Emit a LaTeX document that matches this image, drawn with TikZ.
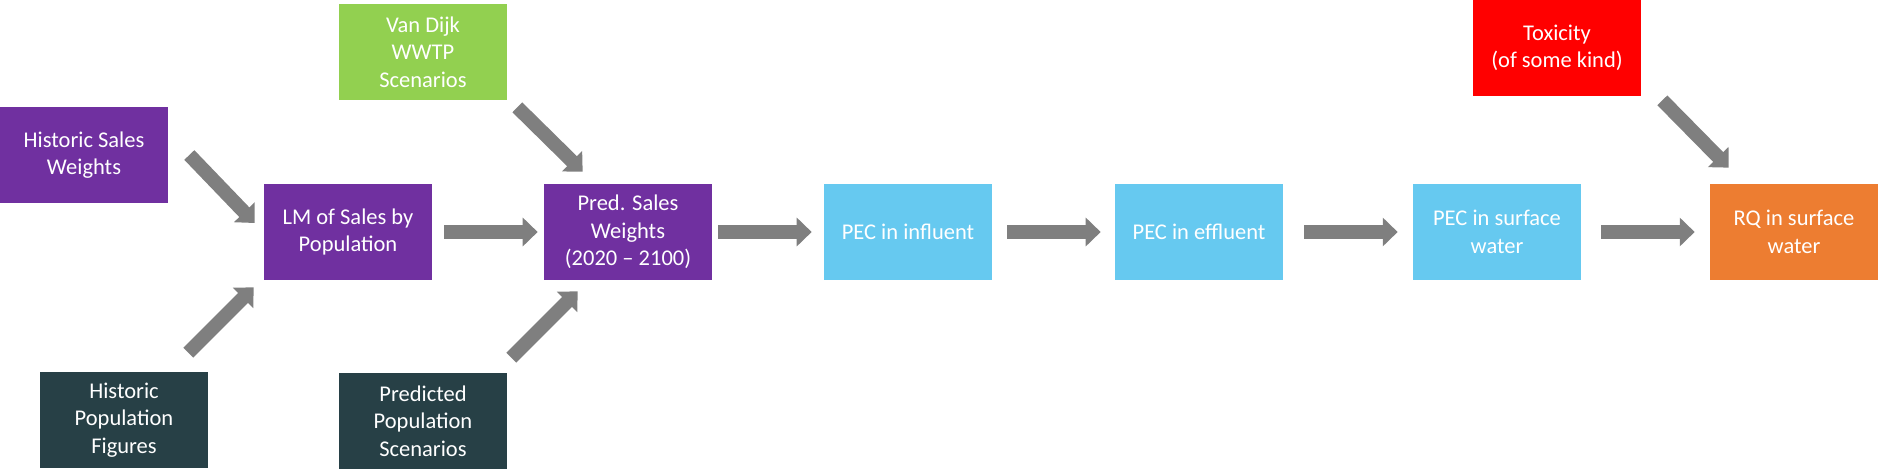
\documentclass[tikz,border=0pt]{standalone}
\usepackage{fontspec}
\setmainfont{Carlito}
\usepackage{xcolor}
\usepackage{tikz}
\usetikzlibrary{calc, arrows.meta}

\definecolor{salespurple}{HTML}{7030A0}
\definecolor{popteal}{HTML}{274046}
\definecolor{wwtpgreen}{HTML}{92D050}
\definecolor{pecblue}{HTML}{66C9F0}
\definecolor{toxred}{HTML}{FF0000}
\definecolor{rqorange}{HTML}{ED7D31}
\definecolor{arrowgray}{HTML}{7F7F7F}

\begin{document}
\begin{tikzpicture}[x=0.02cm, y=-0.02cm,
    box/.style={minimum width=3.36cm, minimum height=1.92cm, inner sep=0pt,
        align=center, text=white, font=\fontsize{12.8}{15.7}\selectfont},
    fat/.style={draw=arrowgray, line width=7.94pt,
        -{Triangle[width=15.9pt, length=8.5pt]}}]

    \useasboundingbox (0,0) rectangle (1878,476);

    % 1. Eingaben links
    \node[box, fill=salespurple] (hsw) at (84,155) {Historic Sales\\Weights};
    \node[box, fill=popteal] (hpf) at (124,420) {Historic\\Population\\Figures};
    \node[box, fill=salespurple] (lm) at (348,232) {LM of Sales by\\Population};

    % 2. Vorhersage
    \node[box, fill=wwtpgreen] (vdw) at (423,52) {Van Dijk\\WWTP\\Scenarios};
    \node[box, fill=popteal] (pps) at (423,421) {Predicted\\Population\\Scenarios};
    \node[box, fill=salespurple] (psw) at (628,232) {Pred. Sales\\Weights\\(2020 -- 2100)};

    % 3. PEC Kette
    \node[box, fill=pecblue] (infl) at (908,232) {PEC in influent};
    \node[box, fill=pecblue] (effl) at (1199,232) {PEC in effluent};
    \node[box, fill=pecblue] (surf) at (1497,232) {PEC in surface\\water};
    \node[box, fill=toxred] (tox) at (1557,48) {Toxicity\\(of some kind)};
    \node[box, fill=rqorange] (rq) at (1794,232) {RQ in surface\\water};

    % 4. Pfeile
    \draw[fat] ($(hsw.east)+(21,0)$) -- ($(lm.west)+(-9,-9)$);
    \draw[fat] ($(hpf.north east)+(-20,-19)$) -- ($(lm.south west)+(-10,7)$);
    \draw[fat] ($(vdw.south east)+(10,7)$) -- ($(psw.north west)+(39,-12)$);
    \draw[fat] ($(pps.north east)+(4,-15)$) -- ($(psw.south west)+(34,11)$);
    \draw[fat] ($(tox.south east)+(21,4)$) -- ($(rq.north west)+(19,-16)$);

    \draw[fat] ($(lm.east)+(12,0)$) -- ($(psw.west)+(-6,0)$);
    \draw[fat] ($(psw.east)+(6,0)$) -- ($(infl.west)+(-12,0)$);
    \draw[fat] ($(infl.east)+(15,0)$) -- ($(effl.west)+(-14,0)$);
    \draw[fat] ($(effl.east)+(21,0)$) -- ($(surf.west)+(-15,0)$);
    \draw[fat] ($(surf.east)+(20,0)$) -- ($(rq.west)+(-15,0)$);
\end{tikzpicture}
\end{document}
